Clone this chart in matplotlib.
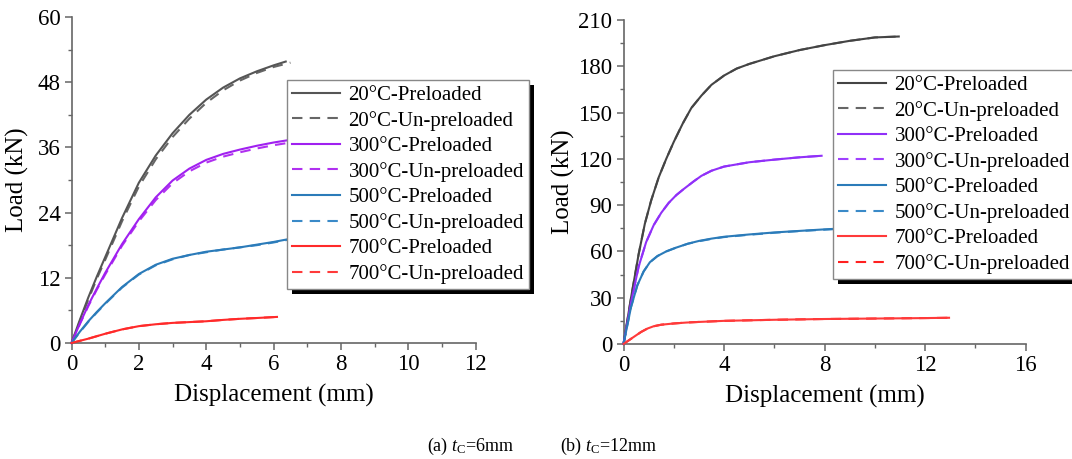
import matplotlib
matplotlib.use("Agg")
import matplotlib.pyplot as plt
from matplotlib.ticker import MultipleLocator
from matplotlib.patches import Rectangle

plt.rcParams['font.family'] = ['Liberation Serif', 'DejaVu Serif']
plt.rcParams['mathtext.fontset'] = 'custom'
plt.rcParams['mathtext.rm'] = 'Liberation Serif'
plt.rcParams['mathtext.it'] = 'Liberation Serif:italic'

# ---------------- (a) tC = 6 mm ----------------
a_20p_x = [0, 0.25, 0.5, 0.75, 1, 1.5, 2, 2.5, 3, 3.5, 4, 4.5, 5, 5.5, 6, 6.36]
a_20p_y = [0, 4.3, 8.4, 12.2, 15.8, 23.0, 29.5, 34.5, 38.6, 42.0, 44.8, 47.0, 48.7, 50.0, 51.1, 51.8]
a_20u_x = [0, 0.25, 0.5, 0.75, 1, 1.5, 2, 2.5, 3, 3.5, 4, 4.5, 5, 5.5, 6, 6.5]
a_20u_y = [0, 4.0, 8.0, 11.8, 15.3, 22.4, 28.8, 33.8, 37.9, 41.3, 44.2, 46.5, 48.3, 49.7, 50.8, 51.6]
a_300p_x = [0, 0.25, 0.5, 0.75, 1, 1.5, 2, 2.5, 3, 3.5, 4, 4.5, 5, 5.5, 6, 6.6]
a_300p_y = [0, 3.6, 7.0, 10.0, 12.9, 18.2, 22.8, 26.8, 29.9, 32.1, 33.7, 34.8, 35.6, 36.3, 36.9, 37.5]
a_300u_x = [0, 0.25, 0.5, 0.75, 1, 1.5, 2, 2.5, 3, 3.5, 4, 4.5, 5, 5.5, 6, 6.6]
a_300u_y = [0, 3.5, 6.8, 9.8, 12.6, 17.9, 22.4, 26.3, 29.4, 31.6, 33.2, 34.3, 35.1, 35.8, 36.4, 37.0]
a_500p_x = [0, 0.25, 0.5, 0.75, 1, 1.5, 2, 2.5, 3, 3.5, 4, 4.5, 5, 5.5, 6, 6.6]
a_500p_y = [0, 2.1, 4.0, 5.7, 7.3, 10.3, 12.7, 14.4, 15.5, 16.2, 16.8, 17.2, 17.6, 18.1, 18.6, 19.3]
a_500u_x = [0, 0.25, 0.5, 0.75, 1, 1.5, 2, 2.5, 3, 3.5, 4, 4.5, 5, 5.5, 6, 6.6]
a_500u_y = [0, 2.0, 3.9, 5.6, 7.2, 10.2, 12.6, 14.3, 15.4, 16.2, 16.7, 17.2, 17.6, 18.0, 18.5, 19.2]
a_700p_x = [0, 0.5, 1, 1.5, 2, 2.5, 3, 3.5, 4, 4.5, 5, 5.5, 6.1]
a_700p_y = [0, 0.8, 1.7, 2.5, 3.1, 3.45, 3.7, 3.85, 4.0, 4.25, 4.45, 4.6, 4.8]
a_700u_x = [0, 0.5, 1, 1.5, 2, 2.5, 3, 3.5, 4, 4.5, 5, 5.5, 6.1]
a_700u_y = [0, 0.8, 1.7, 2.5, 3.1, 3.45, 3.7, 3.85, 4.0, 4.25, 4.45, 4.6, 4.8]

# ---------------- (b) tC = 12 mm ----------------
b_20p_x = [0, 0.3, 0.6, 0.85, 1.1, 1.4, 1.7, 2.0, 2.36, 2.7, 3.1, 3.5, 4, 4.5, 5, 6, 7, 8, 9, 10, 10.95]
b_20p_y = [0, 30, 58, 78, 93, 108, 120, 131, 143, 153, 161, 168, 174, 178.5, 181.5, 186.5, 190.5, 193.7, 196.5, 198.7, 199.3]
b_20u_x = [0, 0.3, 0.6, 0.85, 1.1, 1.4, 1.7, 2.0, 2.36, 2.7, 3.1, 3.5, 4, 4.5, 5, 6, 7, 8, 9, 10, 10.95]
b_20u_y = [0, 30, 58, 78, 93, 108, 120, 131, 143, 153, 161, 168, 174, 178.5, 181.5, 186.5, 190.5, 193.7, 196.5, 198.7, 199.3]
b_300p_x = [0, 0.3, 0.6, 0.9, 1.2, 1.5, 1.8, 2.1, 2.4, 2.8, 3.1, 3.5, 4, 5, 6, 7, 7.88]
b_300p_y = [0, 27, 50, 66, 77, 85, 91.5, 96.5, 100.5, 105.5, 109, 112.3, 115, 117.8, 119.5, 121, 122]
b_300u_x = [0, 0.3, 0.6, 0.9, 1.2, 1.5, 1.8, 2.1, 2.4, 2.8, 3.1, 3.5, 4, 5, 6, 7, 7.88]
b_300u_y = [0, 27, 50, 66, 77, 85, 91.5, 96.5, 100.5, 105.5, 109, 112.3, 115, 117.8, 119.5, 121, 122]
b_500p_x = [0, 0.3, 0.55, 0.8, 1.05, 1.35, 1.7, 2.1, 2.56, 3.0, 3.5, 4, 5, 6, 7, 8, 8.8]
b_500p_y = [0, 24, 38, 47, 53, 57, 60, 62.5, 65, 66.8, 68.3, 69.5, 71, 72.3, 73.3, 74.3, 75]
b_500u_x = [0, 0.3, 0.55, 0.8, 1.05, 1.35, 1.7, 2.1, 2.56, 3.0, 3.5, 4, 5, 6, 7, 8, 8.8]
b_500u_y = [0, 24, 38, 47, 53, 57, 60, 62.5, 65, 66.6, 68.1, 69.3, 70.8, 72.1, 73.2, 74.1, 74.8]
b_700p_x = [0, 0.4, 0.7, 0.95, 1.2, 1.5, 2.0, 2.5, 3, 4, 6, 8, 10, 12, 12.95]
b_700p_y = [0, 4.5, 7.8, 10.0, 11.5, 12.5, 13.3, 13.9, 14.3, 15.0, 15.7, 16.2, 16.5, 16.8, 17.0]
b_700u_x = [0, 0.4, 0.7, 0.95, 1.2, 1.5, 2.0, 2.5, 3, 4, 6, 8, 10, 12, 12.95]
b_700u_y = [0, 4.5, 7.8, 10.0, 11.5, 12.5, 13.3, 13.9, 14.3, 15.0, 15.7, 16.2, 16.5, 16.8, 17.0]

labels = ['20°C-Preloaded', '20°C-Un-preloaded', '300°C-Preloaded', '300°C-Un-preloaded',
          '500°C-Preloaded', '500°C-Un-preloaded', '700°C-Preloaded', '700°C-Un-preloaded']

a_series = [(a_20p_x, a_20p_y), (a_20u_x, a_20u_y), (a_300p_x, a_300p_y), (a_300u_x, a_300u_y),
            (a_500p_x, a_500p_y), (a_500u_x, a_500u_y), (a_700p_x, a_700p_y), (a_700u_x, a_700u_y)]
b_series = [(b_20p_x, b_20p_y), (b_20u_x, b_20u_y), (b_300p_x, b_300p_y), (b_300u_x, b_300u_y),
            (b_500p_x, b_500p_y), (b_500u_x, b_500u_y), (b_700p_x, b_700p_y), (b_700u_x, b_700u_y)]

a_colors = ['#555555', '#666666', '#a020f0', '#b030f0', '#2b7bb9', '#3a8ac8', '#ff2a2a', '#ff3a3a']
b_colors = ['#444444', '#666666', '#9030f8', '#a040ff', '#2b7bb9', '#3a8ac8', '#ff3a3a', '#ff2020']

W, H = 1072, 459
fig = plt.figure(figsize=(W / 100, H / 100), dpi=100)

ax_a = fig.add_axes([71.5 / W, 1 - 343 / H, (475.7 - 71.5) / W, (343 - 17) / H])
ax_b = fig.add_axes([623.5 / W, 1 - 344 / H, (1025.7 - 623.5) / W, (344 - 20) / H])


def style_axes(ax, xmax, xmaj, xmin, ymax, ymaj, ymin):
    ax.set_xlim(0, xmax)
    ax.set_ylim(0, ymax)
    ax.xaxis.set_major_locator(MultipleLocator(xmaj))
    ax.xaxis.set_minor_locator(MultipleLocator(xmin))
    ax.yaxis.set_major_locator(MultipleLocator(ymaj))
    ax.yaxis.set_minor_locator(MultipleLocator(ymin))
    for side in ('top', 'right'):
        ax.spines[side].set_visible(False)
    for side in ('left', 'bottom'):
        ax.spines[side].set_color('#666666')
        ax.spines[side].set_linewidth(1.2)
    ax.tick_params(which='major', direction='out', length=5, width=1.1, color='#666666',
                   labelsize=16.5, pad=3)
    ax.tick_params(which='minor', direction='out', length=3, width=1.0, color='#666666')
    ax.set_xlabel('Displacement (mm)', fontsize=18, labelpad=6)
    ax.set_ylabel('Load (kN)', fontsize=18)
    ax.set_facecolor('none')


def draw(ax, series, colors, anchor):
    for i, ((x, y), c, lab) in enumerate(zip(series, colors, labels)):
        ls = '-' if i % 2 == 0 else (0, (5, 3.5))
        ax.plot(x, y, color=c, lw=1.5, ls=ls, label=lab, zorder=3 if i % 2 == 0 else 2,
                clip_on=False)
    leg = ax.legend(loc='upper left', bbox_to_anchor=anchor, bbox_transform=fig.transFigure,
                    fontsize=15, frameon=True, fancybox=False, framealpha=1,
                    handlelength=2.3, handletextpad=0.4, labelspacing=0.28,
                    borderpad=0.25, borderaxespad=0)
    leg.get_frame().set_facecolor('white')
    leg.get_frame().set_edgecolor('#888888')
    leg.get_frame().set_linewidth(1.0)
    leg.set_zorder(10)
    return leg


style_axes(ax_a, 12, 2, 1, 60, 12, 6)
style_axes(ax_b, 16, 4, 2, 210, 30, 15)
leg_a = draw(ax_a, a_series, a_colors, (287 / W, 1 - 80 / H))
leg_b = draw(ax_b, b_series, b_colors, (833 / W, 1 - 70 / H))

# y labels: coordinate is the right edge of the rotated text
ax_a.yaxis.set_label_coords(29 / W, 0.5 * ((1 - 343 / H) + (1 - 17 / H)), transform=fig.transFigure)
ax_b.yaxis.set_label_coords(575 / W, 0.5 * ((1 - 344 / H) + (1 - 20 / H)), transform=fig.transFigure)

# solid drop shadow behind each legend box, drawn in the legend's own axes
fig.canvas.draw()
for ax, leg in ((ax_a, leg_a), (ax_b, leg_b)):
    bb = leg.get_frame().get_window_extent()
    shadow = Rectangle((bb.x0 + 5, bb.y0 - 5), bb.width, bb.height,
                       transform=None, facecolor='black', edgecolor='none', zorder=9,
                       clip_on=False)
    ax.add_artist(shadow)

fig.text(427 / W, 1 - 446 / H, r'(a) $t_{\mathrm{C}}$=6mm', fontsize=13, va='center', ha='left')
fig.text(560 / W, 1 - 446 / H, r'(b) $t_{\mathrm{C}}$=12mm', fontsize=13, va='center', ha='left')

fig.savefig('out.png', dpi=100)
